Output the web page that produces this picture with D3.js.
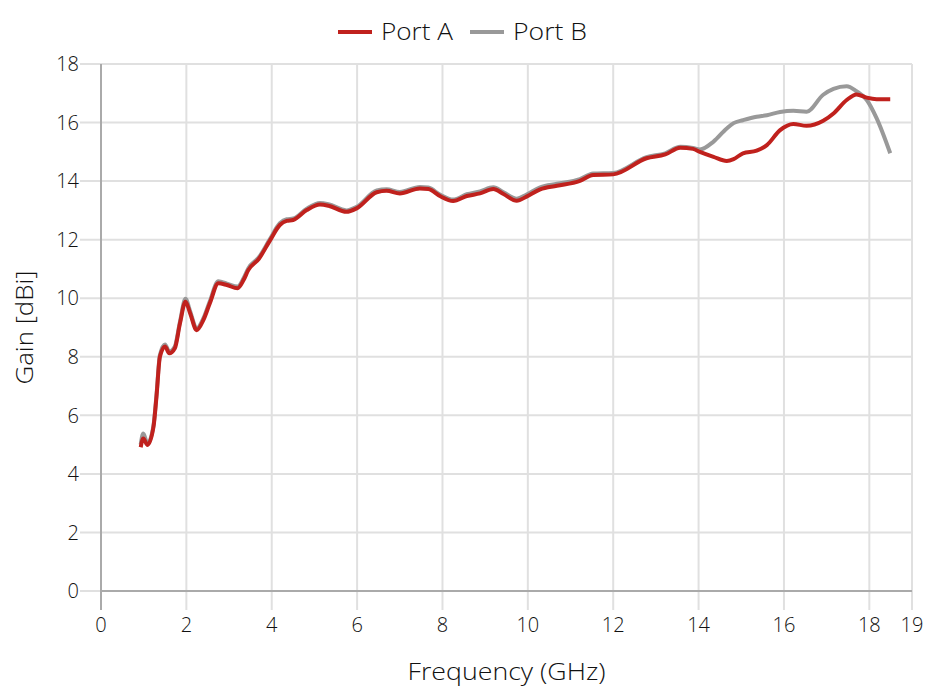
<!DOCTYPE html>
<html>
<head>
<meta charset="utf-8">
<script src="https://cdn.jsdelivr.net/npm/d3@7"></script>
<style>
  body { margin: 0; background: #fff; }
  svg { display: block; font-family: "Open Sans", "Noto Sans", sans-serif; font-weight: 350; }
</style>
</head>
<body>
<svg id="chart" width="930" height="696"></svg>
<script>
const freq = [0.93, 0.99, 1.09, 1.23, 1.3, 1.38, 1.5, 1.6, 1.73, 1.85, 1.98, 2.09, 2.24, 2.4, 2.55, 2.75, 2.95, 3.2, 3.34, 3.45, 3.7, 3.95, 4.19, 4.35, 4.5, 4.82, 5.13, 5.33, 5.75, 5.99, 6.46, 6.69, 7.0, 7.47, 7.67, 7.94, 8.25, 8.57, 8.88, 9.19, 9.43, 9.74, 9.97, 10.29, 10.68, 11.22, 11.53, 12.0, 12.78, 13.22, 13.57, 13.87, 14.03, 14.35, 14.66, 14.82, 15.04, 15.36, 15.6, 15.91, 16.22, 16.53, 16.92, 17.16, 17.47, 17.7, 17.94, 18.17, 18.49];

const gainA = [4.91, 5.21, 4.99, 5.61, 6.64, 8.0, 8.35, 8.12, 8.29, 9.14, 9.88, 9.48, 8.91, 9.26, 9.83, 10.51, 10.45, 10.34, 10.62, 10.96, 11.35, 11.95, 12.5, 12.64, 12.67, 13.01, 13.2, 13.16, 12.95, 13.07, 13.62, 13.67, 13.58, 13.75, 13.73, 13.49, 13.32, 13.49, 13.58, 13.73, 13.56, 13.33, 13.47, 13.72, 13.84, 14.01, 14.21, 14.23, 14.78, 14.91, 15.14, 15.1, 15.0, 14.83, 14.69, 14.75, 14.95, 15.04, 15.23, 15.74, 15.95, 15.89, 16.06, 16.31, 16.77, 16.96, 16.85, 16.8, 16.8];

const gainB = [5.0, 5.38, 5.04, 5.66, 6.7, 8.06, 8.42, 8.18, 8.35, 9.2, 9.98, 9.55, 8.97, 9.32, 9.9, 10.58, 10.5, 10.4, 10.68, 11.02, 11.4, 12.0, 12.56, 12.7, 12.72, 13.06, 13.25, 13.21, 13.0, 13.12, 13.68, 13.72, 13.63, 13.8, 13.78, 13.54, 13.37, 13.55, 13.65, 13.79, 13.62, 13.4, 13.54, 13.79, 13.91, 14.07, 14.26, 14.28, 14.82, 14.95, 15.17, 15.13, 15.08, 15.35, 15.8, 15.98, 16.08, 16.2, 16.25, 16.36, 16.4, 16.37, 16.95, 17.15, 17.24, 17.07, 16.77, 16.15, 14.95];

const seriesNames = ["Port A", "Port B"];
const seriesColors = ["#c0211d", "#999999"];
const xTicks = [0, 2, 4, 6, 8, 10, 12, 14, 16, 18, 19];
const yTicks = [0, 2, 4, 6, 8, 10, 12, 14, 16, 18];

const svg = d3.select("#chart");
const mLeft = 101, mRight = 912, mTop = 64, mBottom = 591;

const x = d3.scaleLinear().domain([0, 19]).range([mLeft, mRight]);
const y = d3.scaleLinear().domain([0, 18]).range([mBottom, mTop]);

const gridColor = "#e0e0e0";
const axisColor = "#aaaaaa";
const textColor = "#111111";

svg.append("g").selectAll("line").data(yTicks).join("line")
  .attr("x1", mLeft - 21).attr("x2", mRight)
  .attr("y1", d => y(d)).attr("y2", d => y(d))
  .attr("stroke", gridColor).attr("stroke-width", 2);

svg.append("g").selectAll("line").data(xTicks).join("line")
  .attr("x1", d => x(d)).attr("x2", d => x(d))
  .attr("y1", mTop).attr("y2", mBottom + 19)
  .attr("stroke", gridColor).attr("stroke-width", 2);

svg.append("line").attr("x1", mLeft).attr("x2", mRight).attr("y1", mBottom).attr("y2", mBottom)
  .attr("stroke", axisColor).attr("stroke-width", 2);
svg.append("line").attr("x1", mLeft).attr("x2", mLeft).attr("y1", mTop).attr("y2", mBottom + 19)
  .attr("stroke", axisColor).attr("stroke-width", 2);

const fs = 20;
svg.append("g").selectAll("text").data(yTicks).join("text")
  .attr("x", mLeft - 22).attr("y", d => y(d)).attr("dy", "0.36em")
  .attr("text-anchor", "end").attr("font-size", fs).attr("fill", textColor)
  .text(d => d);
svg.append("g").selectAll("text").data(xTicks).join("text")
  .attr("x", d => x(d)).attr("y", 632)
  .attr("text-anchor", "middle").attr("font-size", fs).attr("fill", textColor)
  .text(d => d);

svg.append("text").attr("x", (mLeft + mRight) / 2).attr("y", 680)
  .attr("text-anchor", "middle").attr("font-size", 23).attr("fill", textColor)
  .attr("textLength", 198).attr("lengthAdjust", "spacingAndGlyphs")
  .text("Frequency (GHz)");
svg.append("text").attr("transform", `translate(33, ${(mTop + mBottom) / 2}) rotate(-90)`)
  .attr("text-anchor", "middle").attr("font-size", 23).attr("fill", textColor)
  .attr("textLength", 114).attr("lengthAdjust", "spacingAndGlyphs")
  .text("Gain [dBi]");

const line = d3.line().x(d => x(d[0])).y(d => y(d[1])).curve(d3.curveMonotoneX);
const dataA = freq.map((f, i) => [f, gainA[i]]);
const dataB = freq.map((f, i) => [f, gainB[i]]);

svg.append("path").datum(dataB).attr("d", line)
  .attr("fill", "none").attr("stroke", seriesColors[1]).attr("stroke-width", 4)
  .attr("stroke-linejoin", "round");
svg.append("path").datum(dataA).attr("d", line)
  .attr("fill", "none").attr("stroke", seriesColors[0]).attr("stroke-width", 4)
  .attr("stroke-linejoin", "round");

const legend = svg.append("g");
const legX = [338, 470];
const legW = [72, 74];
seriesNames.forEach((name, i) => {
  legend.append("line").attr("x1", legX[i]).attr("x2", legX[i] + 34)
    .attr("y1", 32).attr("y2", 32)
    .attr("stroke", seriesColors[i]).attr("stroke-width", 4);
  legend.append("text").attr("x", legX[i] + 43).attr("y", 40)
    .attr("font-size", 23).attr("fill", textColor)
    .attr("textLength", legW[i]).attr("lengthAdjust", "spacingAndGlyphs")
    .text(name);
});
</script>
</body>
</html>
